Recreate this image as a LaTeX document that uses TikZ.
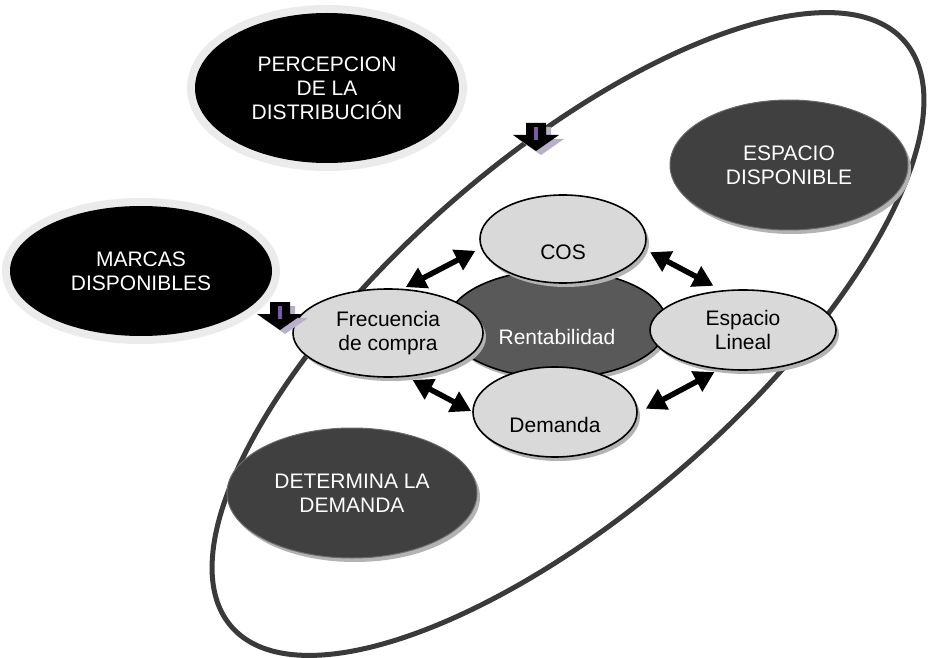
\documentclass[tikz,border=0pt]{standalone}
\usepackage{fontspec}
\setmainfont{Liberation Sans}
\usetikzlibrary{shapes.geometric,arrows.meta,shadows}
\definecolor{ringgray}{HTML}{3A3A3A}
\definecolor{darkfill}{HTML}{404040}
\definecolor{darkedge}{HTML}{6A6A6A}
\definecolor{rentfill}{HTML}{595959}
\definecolor{lightfill}{HTML}{D9D9D9}
\definecolor{halogray}{HTML}{EBEBEB}
\definecolor{shadowgray}{HTML}{B3B3B3}
\definecolor{stripe}{HTML}{7B5AA6}
\definecolor{arrshadow}{HTML}{B8AFC8}
\begin{document}
\begin{tikzpicture}[x=1pt,y=-1pt,
  every node/.style={font=\fontsize{21}{24}\selectfont, align=center, inner sep=0pt, outer sep=0pt, ellipse},
  blackell/.style={fill=black, text=white, preaction={draw=halogray, line width=16pt}},
  darkell/.style={fill=darkfill, draw=darkedge, line width=1pt, text=white,
    drop shadow={shadow xshift=3pt, shadow yshift=-4pt, fill=shadowgray, opacity=1}},
  rentell/.style={fill=rentfill, draw=black, line width=1.6pt, text=white,
    drop shadow={shadow xshift=3pt, shadow yshift=-4pt, fill=shadowgray, opacity=1}},
  lightell/.style={fill=lightfill, draw=black, line width=1.6pt, text=black,
    drop shadow={shadow xshift=3pt, shadow yshift=-4pt, fill=shadowgray, opacity=1}},
  dbl/.style={line width=5.5pt, {Triangle[length=20pt,width=22pt]}-{Triangle[length=20pt,width=22pt]}},
  blockarrow/.pic={
    \fill[arrshadow, shift={(5,4)}] (-10,0) -- (10,0) -- (10,12) -- (23,12) -- (0,28) -- (-23,12) -- (-10,12) -- cycle;
    \fill[black] (-10,0) -- (10,0) -- (10,12) -- (23,12) -- (0,28) -- (-23,12) -- (-10,12) -- cycle;
    \fill[stripe] (-2,4) rectangle (2,17);
  }
]
\useasboundingbox (0,0) rectangle (930,658);
\fill[white] (0,0) rectangle (930,658);

% big ring
\draw[ringgray, line width=5pt, rotate around={41:(568,334)}] (568,334) ellipse [x radius=446pt, y radius=176pt];

% outer ellipses
\node[blackell, minimum width=264pt, minimum height=150pt] (perc) at (327,88) {PERCEPCION\\DE LA\\DISTRIBUCIÓN};
\node[blackell, minimum width=262pt, minimum height=130pt] (marcas) at (141,271) {MARCAS\\DISPONIBLES};
\node[darkell, minimum width=238pt, minimum height=130pt] (espdisp) at (789,165) {ESPACIO\\DISPONIBLE};
\node[darkell, minimum width=250pt, minimum height=130pt] (det) at (352,493) {DETERMINA LA\\DEMANDA};

% central cluster
\node[rentell, minimum width=220pt, minimum height=108pt, text height=40pt, text depth=0pt] (rent) at (557,324) {Rentabilidad};
\node[lightell, minimum width=166pt, minimum height=88pt, text height=40pt, text depth=0pt] (cos) at (563,239) {COS};
\node[lightell, minimum width=190pt, minimum height=88pt] (frec) at (388,333) {Frecuencia\\de compra};
\node[lightell, minimum width=186pt, minimum height=80pt] (lin) at (743,330) {Espacio\\Lineal};
\node[lightell, minimum width=164pt, minimum height=90pt, text height=40pt, text depth=0pt] (dem) at (555,412) {Demanda};

% double arrows
\draw[dbl, shorten <=7pt, shorten >=5pt] (cos.186) -- (frec.73);
\draw[dbl, shorten <=7pt, shorten >=11pt] (cos.353) -- (lin.117);
\draw[dbl, shorten <=8pt, shorten >=2pt] (frec.292) -- (dem.180);
\draw[dbl, shorten <=7pt, shorten >=10pt] (lin.240) -- (dem.359);

% block arrows
\pic at (536,123) {blockarrow};
\pic at (280,302) {blockarrow};
\end{tikzpicture}
\end{document}
